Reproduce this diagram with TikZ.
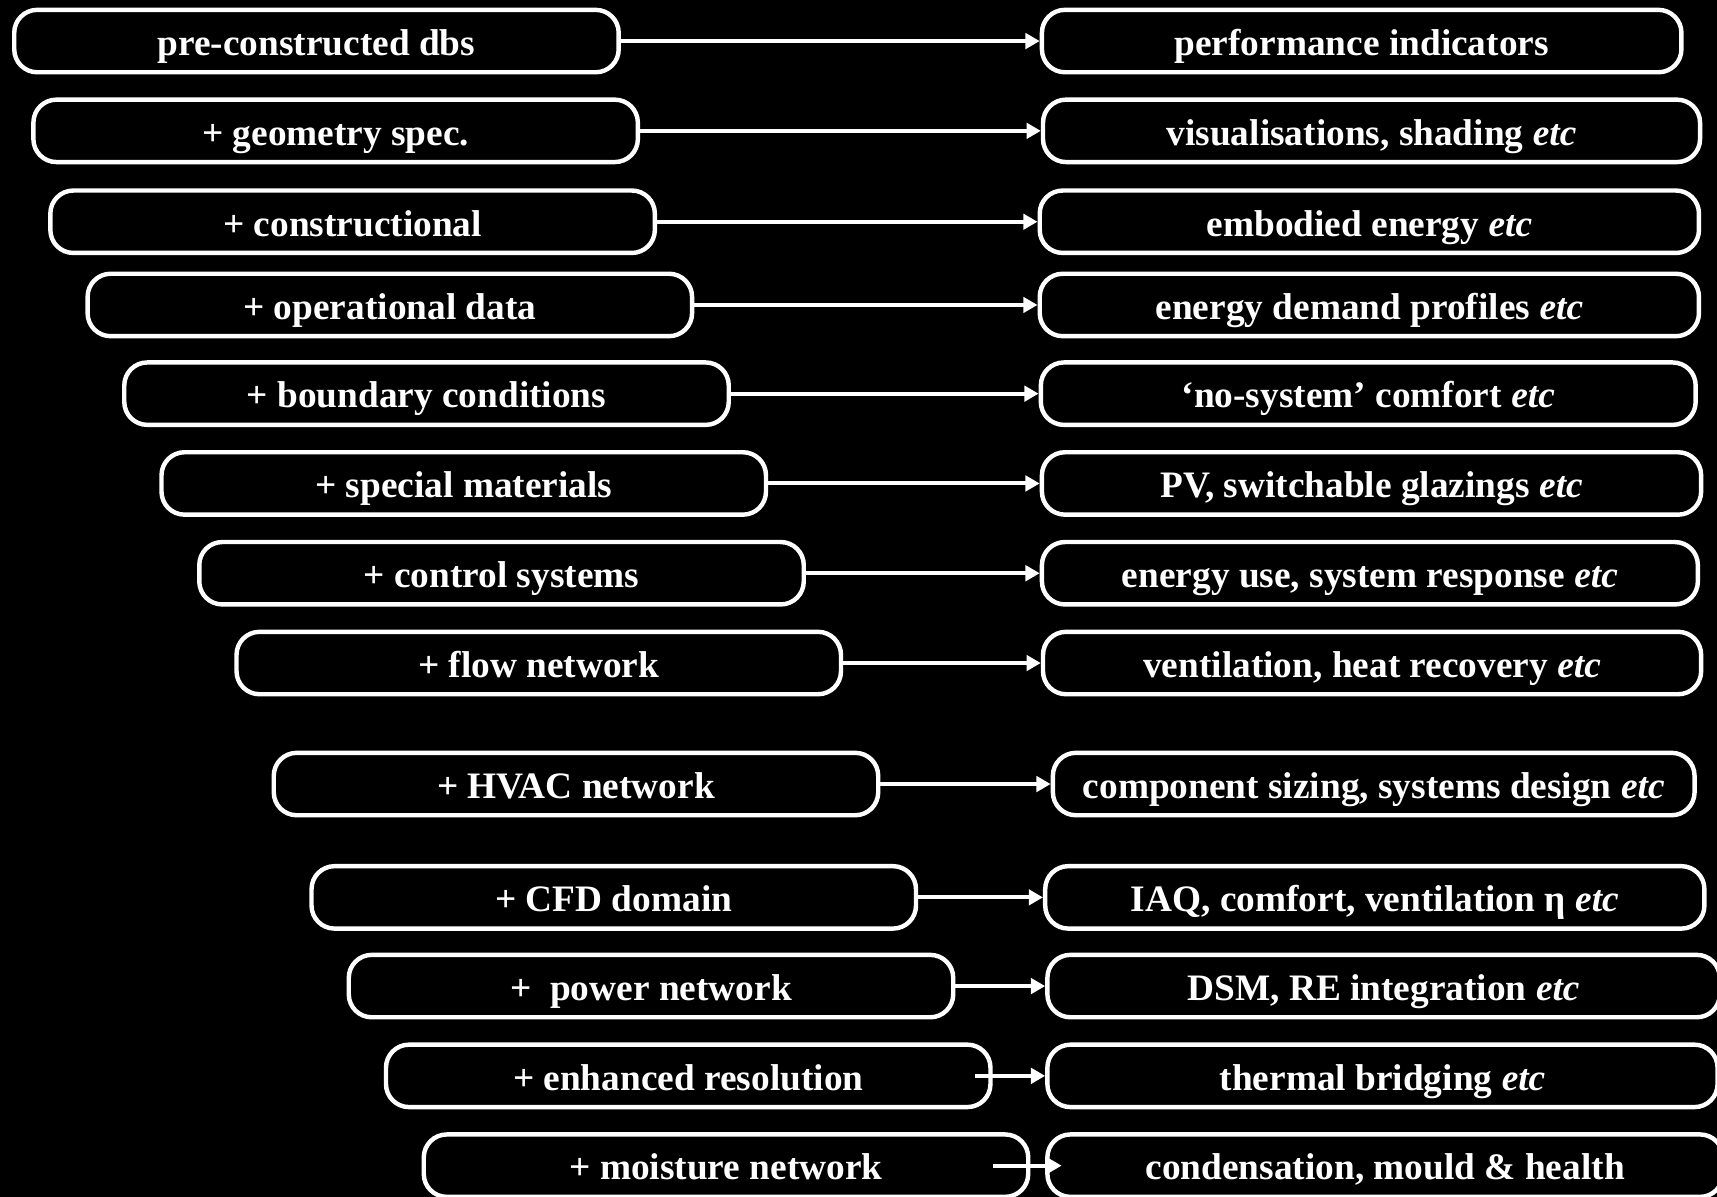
\documentclass[tikz,border=0pt]{standalone}
\usepackage{fontspec}
\setmainfont{Liberation Serif}
\usetikzlibrary{arrows.meta}
\definecolor{bg}{HTML}{000000}
\definecolor{fg}{HTML}{FFFFFF}
\tikzset{
  box/.style={draw=fg, fill=bg, text=fg, line width=2.3pt, rounded corners=0.42cm,
    minimum height=1.14cm, inner sep=0pt, text height=17pt, text depth=2.1pt,
    font=\fontsize{19.4}{23}\selectfont\bfseries},
  inbox/.style={box, minimum width=11.04cm},
  outbox/.style={box, minimum width=#1},
  link/.style={draw=fg, line width=2.1pt, -{Triangle[length=0.26cm,width=0.28cm]}},
}

\begin{document}
\begin{tikzpicture}[x=0.2mm, y=-0.2mm]
  \path[use as bounding box, fill=bg] (0,0) rectangle (1568,1093);
  % model build-up (left)
  \node[inbox] (dbs)  at (289,37.5)   {pre-constructed dbs};
  \node[inbox] (geo)  at (306.5,119.5) {+ geometry spec.};
  \node[inbox] (con)  at (322,202.5)  {+ constructional};
  \node[inbox] (ops)  at (356,278.5)  {+ operational data};
  \node[inbox] (bnd)  at (389.5,359.5) {+ boundary conditions};
  \node[inbox] (mat)  at (423.5,441.5) {+ special materials};
  \node[inbox] (ctl)  at (458,523.5)  {+ control systems};
  \node[inbox] (flw)  at (492,605.5)  {+ flow network};
  \node[inbox] (hvac) at (526,716)    {+ HVAC network};
  \node[inbox] (cfd)  at (560.5,819.5) {+ CFD domain};
  \node[inbox] (pwr)  at (594.5,900.5) {+~~power network};
  \node[inbox] (res)  at (628.5,982.5) {+ enhanced resolution};
  \node[inbox] (mst)  at (663,1064.5) {+ moisture network};
  % what each step adds (right)
  \node[outbox=11.68cm] (kpi)  at (1243.5,37.5)  {performance indicators};
  \node[outbox=12.00cm] (vis)  at (1252.5,119.5) {visualisations, shading \textit{etc}};
  \node[outbox=12.04cm] (emb)  at (1250.5,202.5) {embodied energy \textit{etc}};
  \node[outbox=12.04cm] (dem)  at (1250.5,278.5) {energy demand profiles \textit{etc}};
  \node[outbox=11.96cm] (cmf)  at (1249.5,359.5) {‘no-system’ comfort \textit{etc}};
  \node[outbox=12.04cm] (pv)   at (1252.5,441.5) {PV, switchable glazings \textit{etc}};
  \node[outbox=11.98cm] (use)  at (1251,523.5)   {energy use, system response \textit{etc}};
  \node[outbox=12.02cm] (vent) at (1253,605.5)   {ventilation, heat recovery \textit{etc}};
  \node[outbox=11.72cm] (siz)  at (1254.5,716)   {component sizing, systems design \textit{etc}};
  \node[outbox=12.04cm] (iaq)  at (1255.5,819.5) {IAQ, comfort, ventilation η \textit{etc}};
  \node[outbox=12.28cm] (dsm)  at (1263.5,900.5) {DSM, RE integration \textit{etc}};
  \node[outbox=12.24cm] (tb)   at (1262.5,982.5) {thermal bridging \textit{etc}};
  \node[outbox=12.34cm] (hlth) at (1265,1064.5)  {condensation, mould \& health};
  % links
  \draw[link] (dbs.east) -- (kpi.west);
  \draw[link] (geo.east) -- (vis.west);
  \draw[link] (con.east) -- (emb.west);
  \draw[link] (ops.east) -- (dem.west);
  \draw[link] (bnd.east) -- (cmf.west);
  \draw[link] (mat.east) -- (pv.west);
  \draw[link] (ctl.east) -- (use.west);
  \draw[link] (flw.east) -- (vent.west);
  \draw[link] (hvac.east) -- (siz.west);
  \draw[link] (cfd.east) -- (iaq.west);
  \draw[link] (pwr.east) -- (dsm.west);
  \draw[link] ([xshift=-0.32cm]res.east) -- (tb.west);
  \draw[link] ([xshift=-0.68cm]mst.east) -- ([xshift=0.30cm]hlth.west);
\end{tikzpicture}
\end{document}
